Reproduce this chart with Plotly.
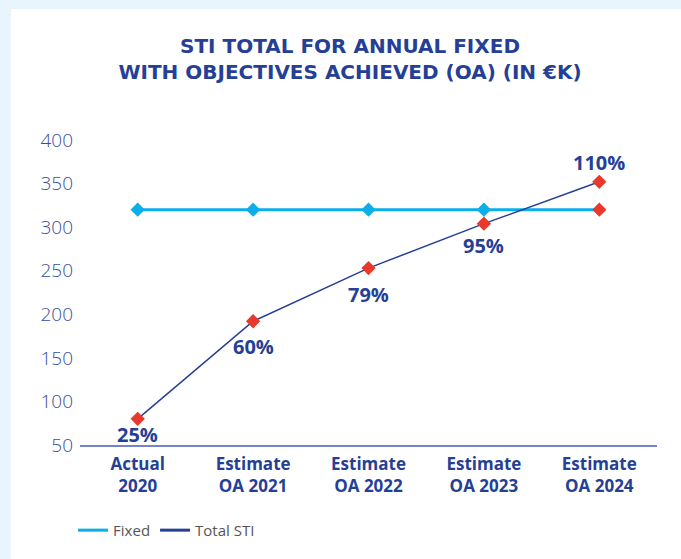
import plotly.graph_objects as go

# Data
categories = ["Actual<br>2020", "Estimate<br>OA 2021", "Estimate<br>OA 2022",
              "Estimate<br>OA 2023", "Estimate<br>OA 2024"]
fixed = [320, 320, 320, 320, 320]
total_sti = [80, 192, 253, 304, 352]
pct_labels = ["25%", "60%", "79%", "95%", "110%"]
label_shift = [-16, -25, -26, -22, 19]
y_ticks = [50, 100, 150, 200, 250, 300, 350, 400]

NAVY = "#263F96"
CYAN = "#0AAEE8"
RED = "#E8392C"
BG = "#E8F5FD"
FONT = "Open Sans"

fig = go.Figure()

fig.add_trace(go.Scatter(
    x=categories, y=fixed, name="Fixed", mode="lines+markers", showlegend=False,
    line=dict(color=CYAN, width=3),
    marker=dict(symbol="diamond", size=11, color=[CYAN] * 4 + [RED]),
))

fig.add_trace(go.Scatter(
    x=categories, y=total_sti, name="Total STI", mode="lines+markers", showlegend=False,
    line=dict(color=NAVY, width=1.5),
    marker=dict(symbol="diamond", size=11, color=RED),
))

# Legend entries: plain line swatches
fig.add_trace(go.Scatter(x=[None], y=[None], name="Fixed", mode="lines",
                         line=dict(color=CYAN, width=3)))
fig.add_trace(go.Scatter(x=[None], y=[None], name="Total STI", mode="lines",
                         line=dict(color=NAVY, width=3)))

# Percentage labels on the Total STI points
for cat, val, lab, shift in zip(categories, total_sti, pct_labels, label_shift):
    fig.add_annotation(x=cat, y=val, text=f"<b>{lab}</b>", showarrow=False,
                       yshift=shift,
                       font=dict(family=FONT, size=20, color=NAVY))

# White card behind the chart
fig.add_shape(type="rect", xref="paper", yref="paper",
              x0=(11 - 80) / 577, x1=(690 - 80) / 577,
              y0=(445 - 570) / 305, y1=(445 - 9) / 305,
              fillcolor="white", line=dict(width=0), layer="below")

fig.update_layout(
    width=681, height=559,
    margin=dict(l=80, r=24, t=140, b=114),
    paper_bgcolor=BG, plot_bgcolor="rgba(0,0,0,0)",
    title=dict(
        text="<b>STI TOTAL FOR ANNUAL FIXED<br>WITH OBJECTIVES ACHIEVED (OA) (IN €K)</b>",
        x=0.514, xanchor="center", y=0.905, yanchor="middle",
        font=dict(family="DejaVu Sans", size=20, color=NAVY),
    ),
    showlegend=True,
    legend=dict(orientation="h", x=-0.012, xref="paper", y=-0.28, yanchor="middle",
                font=dict(family=FONT, size=15, color="#555555"),
                bgcolor="rgba(0,0,0,0)", itemwidth=30),
    xaxis=dict(
        type="category", range=[-0.5, 4.5], showgrid=False,
        showline=True, linecolor="#7385C6", linewidth=1.5, ticks="",
        ticklabelstandoff=3,
        tickfont=dict(family=FONT, size=17, color=NAVY, weight="bold"),
        zeroline=False,
    ),
    yaxis=dict(
        range=[50, 400], tickvals=y_ticks, showgrid=False, zeroline=False,
        showline=False, ticks="", ticklabelstandoff=6,
        tickfont=dict(family=FONT, size=19, color="#3A4E9E", weight=300),
    ),
)

fig.write_html("out.html")
